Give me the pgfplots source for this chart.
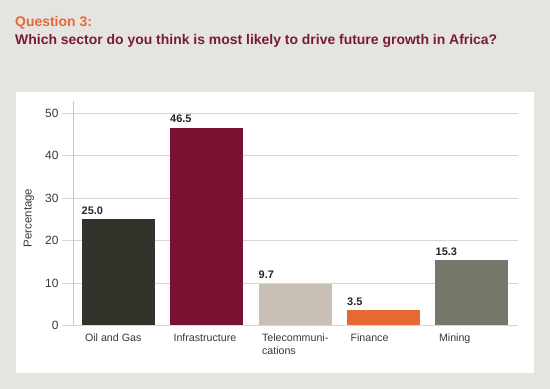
\documentclass[border=0pt]{standalone}
\usepackage{fontspec}
\setmainfont{Liberation Sans}
\usepackage{pgfplots}
\pgfplotsset{compat=1.18}
\definecolor{bgc}{HTML}{E6E4E0}
\definecolor{qorange}{HTML}{E8683A}
\definecolor{qred}{HTML}{7A1A35}
\definecolor{gridc}{HTML}{D9D4CF}
\definecolor{yaxc}{HTML}{CFC6BE}
\definecolor{cOil}{HTML}{33332B}
\definecolor{cInf}{HTML}{7B1130}
\definecolor{cTel}{HTML}{C8BFB5}
\definecolor{cFin}{HTML}{E8692F}
\definecolor{cMin}{HTML}{76766A}
\begin{document}
\begin{tikzpicture}
\fill[bgc] (0bp,0bp) rectangle (550bp,389bp);
\fill[white] (16bp,16bp) rectangle (534bp,297bp);
\node[anchor=base west, inner sep=0pt, font=\fontsize{14}{16}\selectfont\bfseries, text=qorange] at (15bp,362bp) {Question 3:};
\node[anchor=base west, inner sep=0pt, font=\fontsize{14}{16}\selectfont\bfseries, text=qred] at (15bp,344bp) {Which sector do you think is most likely to drive future growth in Africa?};
\begin{axis}[
  at={(73bp,63.7bp)}, anchor=south west,
  scale only axis, width=445bp, height=224.6bp,
  xmin=-0.509, xmax=4.52, ymin=0, ymax=53,
  /pgf/number format/assume math mode=true,
  axis x line*=bottom, axis y line*=left,
  axis line style={-},
  x axis line style={draw=gridc, line width=0.8bp},
  y axis line style={draw=yaxc, line width=0.8bp},
  ytick={0,10,20,30,40,50},
  ymajorgrids, grid style={draw=gridc, line width=0.8bp},
  tick align=outside, major tick length=11bp,
  ytick style={draw=gridc, line width=0.8bp},
  xtick style={draw=none},
  yticklabel style={font=\fontsize{12}{14}\selectfont, text=black!78},
  xtick={0,1,2,3,4},
  xticklabels={Oil and Gas, Infrastructure, {Telecommuni-\\cations}, Finance, Mining},
  xticklabel style={anchor=north west, xshift=-36.5bp, yshift=6bp, align=left, font=\fontsize{10.7}{12.7}\selectfont, text=black!78},
  ylabel={Percentage},
  ylabel style={at={(axis description cs:-0.099,0.478)}, anchor=center, font=\fontsize{11.5}{13}\selectfont, text=black!78},
  every node near coord/.append style={anchor=south west, xshift=-36.5bp, yshift=5bp, inner sep=0pt, font=\fontsize{11}{13}\selectfont\bfseries, text=black!85},
  nodes near coords={\pgfmathprintnumber[fixed,fixed zerofill,precision=1]{\pgfplotspointmeta}},
]
\addplot[ybar, bar width=73bp, bar shift=0pt, fill=cOil, draw=none] coordinates {(0,25.0)};
\addplot[ybar, bar width=73bp, bar shift=0pt, fill=cInf, draw=none] coordinates {(1,46.5)};
\addplot[ybar, bar width=73bp, bar shift=0pt, fill=cTel, draw=none] coordinates {(2,9.7)};
\addplot[ybar, bar width=73bp, bar shift=0pt, fill=cFin, draw=none] coordinates {(3,3.5)};
\addplot[ybar, bar width=73bp, bar shift=0pt, fill=cMin, draw=none] coordinates {(4,15.3)};
\end{axis}
\end{tikzpicture}
\end{document}
